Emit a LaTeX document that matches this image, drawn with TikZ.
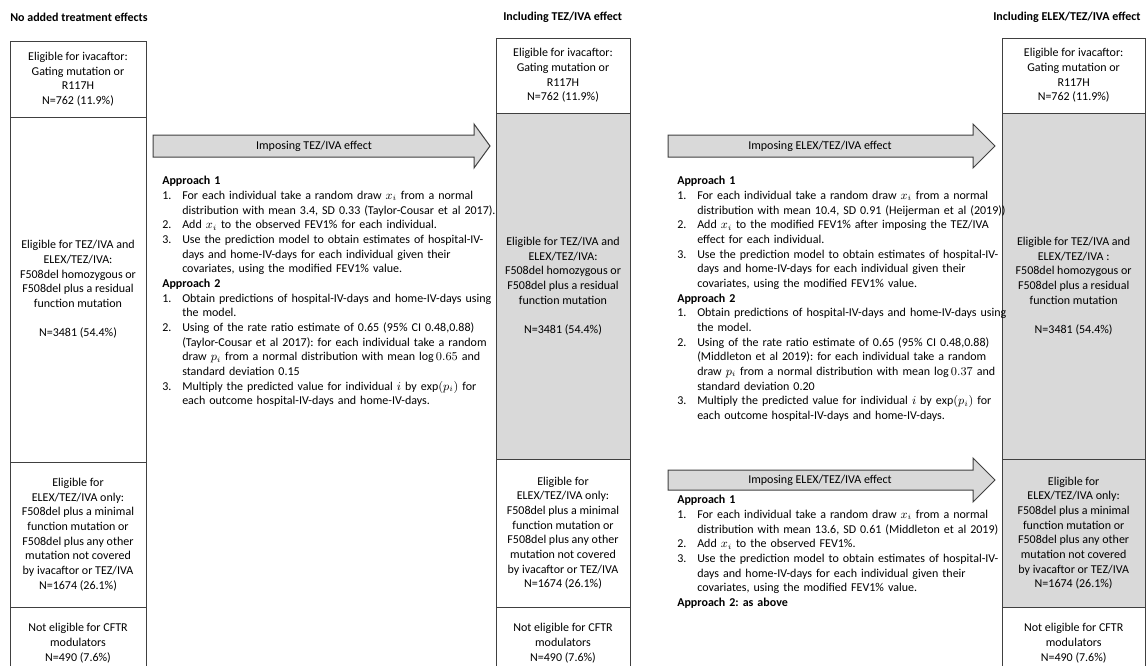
\documentclass[tikz,border=0pt]{standalone}
\usepackage{fontspec}
\setmainfont{Carlito}
\usepackage{enumitem}
\usetikzlibrary{positioning}
\setlist[enumerate]{nosep,leftmargin=15pt,labelindent=0pt,labelwidth=10pt,labelsep=5pt,align=left}
\frenchspacing

\begin{document}
\begin{tikzpicture}[x=0.75pt,y=-0.75pt,font=\fontsize{9}{11}\selectfont,node distance=0pt]
	\tikzset{cell/.style = {draw=black!75,line width=0.75pt,align=center,inner sep=1pt,outer sep=0pt}}
	\tikzset{shaded/.style = {fill=black!15}}
	\tikzset{bigarrow/.style = {draw=black!75,line width=0.75pt,fill=black!15}}
	\tikzset{steps/.style = {text width=255pt,inner sep=0pt,anchor=north west,align=left}}
	\tikzset{heading/.style = {font=\fontsize{9}{11}\selectfont\bfseries,anchor=west,inner sep=0pt}}
	\useasboundingbox (0,0) rectangle (1147,665);
	\clip (0,0) rectangle (1147,665);
	% headings
	\node[heading] (hA) at (10,17) {No added treatment effects};
	\node[heading] (hB) at (503,17) {Including TEZ/IVA effect};
	\node[heading] (hC) at (993,17) {Including ELEX/TEZ/IVA effect};
	% column A
	\node[cell,minimum width=102pt,minimum height=76*0.75pt,anchor=north west] (ivaA) at (10,41)
		{Eligible for ivacaftor:\\Gating mutation or\\R117H\\N=762 (11.9\%)};
	\node[cell,minimum width=102pt,minimum height=345*0.75pt,below=of ivaA] (tezA)
		{Eligible for TEZ/IVA and\\ELEX/TEZ/IVA:\\F508del homozygous or\\F508del plus a residual\\function mutation\\[\baselineskip]N=3481 (54.4\%)};
	\node[cell,minimum width=102pt,minimum height=145*0.75pt,below=of tezA] (elexA)
		{Eligible for\\ELEX/TEZ/IVA only:\\F508del plus a minimal\\function mutation or\\F508del plus any other\\mutation not covered\\by ivacaftor or TEZ/IVA\\N=1674 (26.1\%)};
	\node[cell,minimum width=102pt,minimum height=72*0.75pt,below=of elexA] (noneA)
		{Not eligible for CFTR\\modulators\\N=490 (7.6\%)};
	% column B
	\node[cell,minimum width=100.5pt,minimum height=75*0.75pt,anchor=north west] (ivaB) at (496,38)
		{Eligible for ivacaftor:\\Gating mutation or\\R117H\\N=762 (11.9\%)};
	\node[cell,shaded,minimum width=100.5pt,minimum height=346*0.75pt,below=of ivaB] (tezB)
		{Eligible for TEZ/IVA and\\ELEX/TEZ/IVA:\\F508del homozygous or\\F508del plus a residual\\function mutation\\[\baselineskip]N=3481 (54.4\%)};
	\node[cell,minimum width=100.5pt,minimum height=148*0.75pt,below=of tezB] (elexB)
		{Eligible for\\ELEX/TEZ/IVA only:\\F508del plus a minimal\\function mutation or\\F508del plus any other\\mutation not covered\\by ivacaftor or TEZ/IVA\\N=1674 (26.1\%)};
	\node[cell,minimum width=100.5pt,minimum height=72*0.75pt,below=of elexB] (noneB)
		{Not eligible for CFTR\\modulators\\N=490 (7.6\%)};
	% column C
	\node[cell,minimum width=107.5pt,minimum height=75*0.75pt,anchor=north west] (ivaC) at (1002,38)
		{Eligible for ivacaftor:\\Gating mutation or\\R117H\\N=762 (11.9\%)};
	\node[cell,shaded,minimum width=107.5pt,minimum height=346*0.75pt,below=of ivaC] (tezC)
		{Eligible for TEZ/IVA and\\ELEX/TEZ/IVA :\\F508del homozygous or\\F508del plus a residual\\function mutation\\[\baselineskip]N=3481 (54.4\%)};
	\node[cell,shaded,minimum width=107.5pt,minimum height=148*0.75pt,below=of tezC] (elexC)
		{Eligible for\\ELEX/TEZ/IVA only:\\F508del plus a minimal\\function mutation or\\F508del plus any other\\mutation not covered\\by ivacaftor or TEZ/IVA\\N=1674 (26.1\%)};
	\node[cell,minimum width=107.5pt,minimum height=72*0.75pt,below=of elexC] (noneC)
		{Not eligible for CFTR\\modulators\\N=490 (7.6\%)};
	% block arrows
	\draw[bigarrow] (153,135) -- (474,135) -- (474,124) -- (490,146) -- (474,168) -- (474,157) -- (153,157) -- cycle;
	\node (arrTez) at (314,146) {Imposing TEZ/IVA effect};
	\draw[bigarrow] (668,135) -- (973,135) -- (973,124) -- (995,146) -- (973,168) -- (973,157) -- (668,157) -- cycle;
	\node (arrElex) at (820,146) {Imposing ELEX/TEZ/IVA effect};
	\draw[bigarrow] (668,470) -- (973,470) -- (973,458) -- (995,480) -- (973,502) -- (973,490) -- (668,490) -- cycle;
	\node (arrElexOnly) at (820,480) {Imposing ELEX/TEZ/IVA effect};
	% approaches
	\node[steps] (stepsTez) at (162,176) {\textbf{Approach 1}
		\begin{enumerate}
		\item For each individual take a random draw $x_i$ from a normal\newline distribution with mean 3.4, SD 0.33 (Taylor-Cousar et al 2017).
		\item Add $x_i$ to the observed FEV1\% for each individual.
		\item Use the prediction model to obtain estimates of hospital-IV-\newline days and home-IV-days for each individual given their\newline covariates, using the modified FEV1\% value.
		\end{enumerate}
		\textbf{Approach 2}
		\begin{enumerate}
		\item Obtain predictions of hospital-IV-days and home-IV-days using\newline the model.
		\item Using of the rate ratio estimate of 0.65 (95\% CI 0.48,0.88)\newline (Taylor-Cousar et al 2017): for each individual take a random\newline draw $p_i$ from a normal distribution with mean $\log 0.65$ and\newline standard deviation 0.15
		\item Multiply the predicted value for individual $i$ by $\exp(p_i)$ for\newline each outcome hospital-IV-days and home-IV-days.
		\end{enumerate}};
	\node[steps] (stepsElex) at (677,176) {\textbf{Approach 1}
		\begin{enumerate}
		\item For each individual take a random draw $x_i$ from a normal\newline distribution with mean 10.4, SD 0.91 (Heijerman et al (2019))
		\item Add $x_i$ to the modified FEV1\% after imposing the TEZ/IVA\newline effect for each individual.
		\item Use the prediction model to obtain estimates of hospital-IV-\newline days and home-IV-days for each individual given their\newline covariates, using the modified FEV1\% value.
		\end{enumerate}
		\textbf{Approach 2}
		\begin{enumerate}
		\item Obtain predictions of hospital-IV-days and home-IV-days using\newline the model.
		\item Using of the rate ratio estimate of 0.65 (95\% CI 0.48,0.88)\newline (Middleton et al 2019): for each individual take a random\newline draw $p_i$ from a normal distribution with mean $\log 0.37$ and\newline standard deviation 0.20
		\item Multiply the predicted value for individual $i$ by $\exp(p_i)$ for\newline each outcome hospital-IV-days and home-IV-days.
		\end{enumerate}};
	\node[steps] (stepsElexOnly) at (677,495) {\textbf{Approach 1}
		\begin{enumerate}
		\item For each individual take a random draw $x_i$ from a normal\newline distribution with mean 13.6, SD 0.61 (Middleton et al 2019)
		\item Add $x_i$ to the observed FEV1\%.
		\item Use the prediction model to obtain estimates of hospital-IV-\newline days and home-IV-days for each individual given their\newline covariates, using the modified FEV1\% value.
		\end{enumerate}
		\textbf{Approach 2: as above}};
\end{tikzpicture}
\end{document}
